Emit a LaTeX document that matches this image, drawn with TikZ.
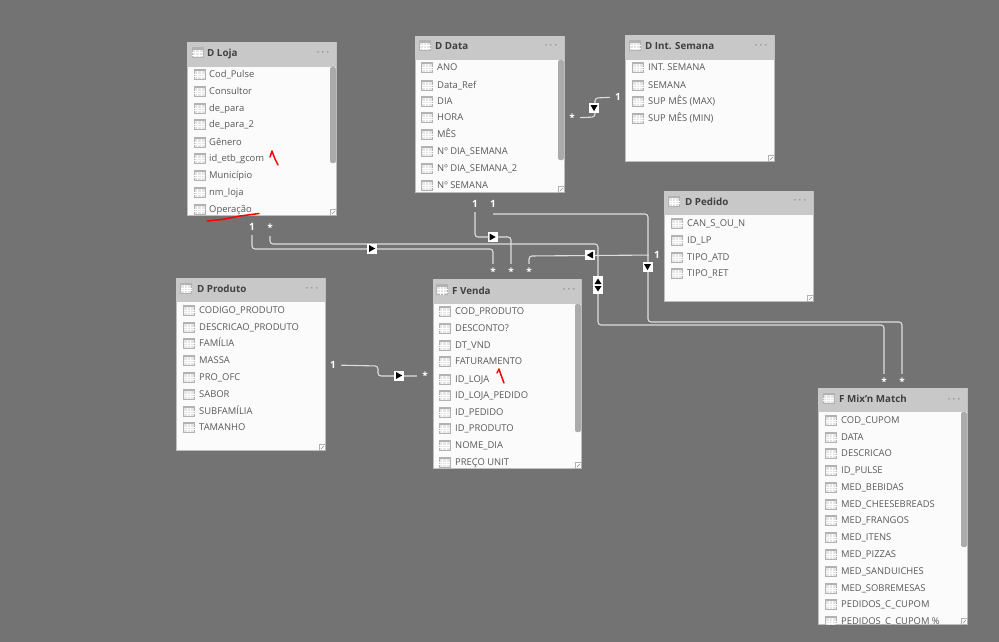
\documentclass[tikz,border=0pt]{standalone}
\usepackage{fontspec}
\setmainfont{Open Sans}
\usepackage{xcolor}
\usetikzlibrary{positioning}
\definecolor{canvasgray}{HTML}{737373}
\definecolor{headgray}{HTML}{C8C8C8}
\definecolor{bodywhite}{HTML}{FBFBFB}
\definecolor{scrollgray}{HTML}{ABABAB}
\definecolor{linegray}{HTML}{DDDDDD}
\definecolor{fieldtext}{HTML}{585858}
\definecolor{headtext}{HTML}{404040}
\tikzset{
    tablebody/.style={fill=bodywhite, draw=black!25, line width=0.6pt},
    tablehead/.style={fill=headgray},
    scrollbar/.style={fill=scrollgray, rounded corners=2pt},
    field/.style={anchor=west, inner sep=0pt, yshift=-1.4pt, text height=7pt, text depth=2pt, text=fieldtext, font=\fontsize{9.4}{11}\selectfont},
    title/.style={anchor=west, inner sep=0pt, yshift=-1.5pt, text height=7pt, text depth=2pt, text=headtext, font=\fontsize{9.8}{11}\selectfont\bfseries},
    dots/.style={inner sep=0pt, yshift=-2pt, text=black!45, font=\fontsize{9}{11}\selectfont\bfseries},
    card/.style={minimum size=16pt, inner sep=0pt, text=white, font=\fontsize{10}{11}\selectfont\bfseries},
    rel/.style={draw=linegray, line width=1.1pt, rounded corners=3pt},
    redmark/.style={draw=red, line width=1.5pt, line cap=round, line join=round},
    gridicon/.pic={
        \fill[black!10] (-5.5,-5) rectangle (5.5,5);
        \fill[black!30] (-5.5,-5) rectangle (5.5,-2.6);
        \draw[black!30, line width=0.5pt] (-5.5,-5) rectangle (5.5,5);
        \foreach \gx in {-2,1.7} \draw[white, line width=0.6pt] (\gx,-2.6) -- (\gx,5);
        \foreach \gy in {0,2.5} \draw[white, line width=0.6pt] (-5.5,\gy) -- (5.5,\gy);
    },
    dirmark/.pic={
        \fill[white] (-5,-5) rectangle (5,5);
        \fill[black] (-3,-3.5) -- (3.2,0) -- (-3,3.5) -- cycle;
    },
    bothmark/.pic={
        \fill[white] (-5,-9) rectangle (5,9);
        \fill[black] (-3.5,-1) -- (0,-6.5) -- (3.5,-1) -- cycle;
        \fill[black] (-3.5,1) -- (0,6.5) -- (3.5,1) -- cycle;
    },
    sizegrip/.pic={
        \draw[black!30, line width=0.5pt] (-6,-6) rectangle (0,0);
        \draw[black!45, line width=0.6pt] (-4,-1) -- (-1,-4);
    }
}
\newcommand{\manymark}{\raisebox{-2.2pt}{*}}
\begin{document}
\begin{tikzpicture}[x=1pt, y=-1pt]
    \useasboundingbox (0,0) rectangle (999,642);
    \fill[canvasgray] (0,0) rectangle (999,642);

    % D Loja
    \filldraw[tablebody] (187,42) rectangle (336,215);
    \fill[tablehead] (187,42) rectangle (336,67);
    \fill[scrollbar] (330,67) rectangle (336,163);
    \pic at (197.5,52.5) {gridicon};
    \node[title] (lojaTitle) at (207,52.5) {D Loja};
    \node[dots] (lojaDots) at (323,52) {· · ·};
    \foreach \rowy/\rowtxt [count=\i] in {74/Cod\_Pulse, 91/Consultor, 108/de\_para, 124/de\_para\_2, 142/Gênero, 158/id\_etb\_gcom, 175/Município, 192/nm\_loja, 209/Operação} {
        \pic at (199.5,\rowy) {gridicon};
        \node[field] (loja\i) at (209,\rowy) {\rowtxt};
    }
    \pic at (336,215) {sizegrip};

    % D Data
    \filldraw[tablebody] (415,36) rectangle (564,192);
    \fill[tablehead] (415,36) rectangle (564,60);
    \fill[scrollbar] (558,60) rectangle (564,160);
    \pic at (425,45.5) {gridicon};
    \node[title] (dataTitle) at (435,45.5) {D Data};
    \node[dots] (dataDots) at (551,45) {· · ·};
    \foreach \rowy/\rowtxt [count=\i] in {67/ANO, 85/Data\_Ref, 101/DIA, 117/HORA, 134/MÊS, 151/Nº DIA\_SEMANA, 168/Nº DIA\_SEMANA\_2, 185/Nº SEMANA} {
        \pic at (427,\rowy) {gridicon};
        \node[field] (data\i) at (437,\rowy) {\rowtxt};
    }
    \pic at (564,192) {sizegrip};

    % D Int. Semana
    \filldraw[tablebody] (625,35) rectangle (774,161);
    \fill[tablehead] (625,35) rectangle (774,60);
    \pic at (635,45.5) {gridicon};
    \node[title] (intTitle) at (645,45.5) {D Int. Semana};
    \node[dots] (intDots) at (761,45) {· · ·};
    \foreach \rowy/\rowtxt [count=\i] in {67/INT. SEMANA, 85/SEMANA, 101/SUP MÊS (MAX), 118/SUP MÊS (MIN)} {
        \pic at (638,\rowy) {gridicon};
        \node[field] (int\i) at (648,\rowy) {\rowtxt};
    }
    \pic at (774,161) {sizegrip};

    % D Pedido
    \filldraw[tablebody] (664,191) rectangle (813,301);
    \fill[tablehead] (664,191) rectangle (813,215);
    \pic at (674,201) {gridicon};
    \node[title] (pedidoTitle) at (685,201) {D Pedido};
    \node[dots] (pedidoDots) at (800,200) {· · ·};
    \foreach \rowy/\rowtxt [count=\i] in {223/CAN\_S\_OU\_N, 240/ID\_LP, 257/TIPO\_ATD, 273/TIPO\_RET} {
        \pic at (677,\rowy) {gridicon};
        \node[field] (pedido\i) at (687,\rowy) {\rowtxt};
    }
    \pic at (813,301) {sizegrip};

    % D Produto
    \filldraw[tablebody] (176,278) rectangle (325,450);
    \fill[tablehead] (176,278) rectangle (325,302);
    \pic at (186,288) {gridicon};
    \node[title] (produtoTitle) at (197,288) {D Produto};
    \node[dots] (produtoDots) at (312,288) {· · ·};
    \foreach \rowy/\rowtxt [count=\i] in {310/CODIGO\_PRODUTO, 327/DESCRICAO\_PRODUTO, 343/FAMÍLIA, 360/MASSA, 377/PRO\_OFC, 394/SABOR, 411/SUBFAMÍLIA, 427/TAMANHO} {
        \pic at (189,\rowy) {gridicon};
        \node[field] (produto\i) at (199,\rowy) {\rowtxt};
    }
    \pic at (325,450) {sizegrip};

    % F Venda
    \filldraw[tablebody] (433,279) rectangle (581,468);
    \fill[tablehead] (433,279) rectangle (581,304);
    \fill[scrollbar] (575,304) rectangle (581,432);
    \pic at (442,289.5) {gridicon};
    \node[title] (vendaTitle) at (452,290) {F Venda};
    \node[dots] (vendaDots) at (569,289) {· · ·};
    \foreach \rowy/\rowtxt [count=\i] in {311/COD\_PRODUTO, 328/DESCONTO?, 345/DT\_VND, 361/FATURAMENTO, 379/ID\_LOJA, 395/ID\_LOJA\_PEDIDO, 412/ID\_PEDIDO, 428/ID\_PRODUTO, 445/NOME\_DIA, 462/PREÇO UNIT} {
        \pic at (444.5,\rowy) {gridicon};
        \node[field] (venda\i) at (455,\rowy) {\rowtxt};
    }
    \pic at (581,468) {sizegrip};

    % F Mix'n Match
    \filldraw[tablebody] (818,388) rectangle (967,624);
    \fill[tablehead] (818,388) rectangle (967,412);
    \fill[scrollbar] (961,412) rectangle (967,547);
    \pic at (828.5,398) {gridicon};
    \node[title] (mixTitle) at (839,398) {F Mix'n Match};
    \node[dots] (mixDots) at (954,399) {· · ·};
    \begin{scope}
        \clip (818,412) rectangle (967,624);
        \foreach \rowy/\rowtxt [count=\i] in {420/COD\_CUPOM, 437/DATA, 453/DESCRICAO, 470/ID\_PULSE, 487/MED\_BEBIDAS, 504/MED\_CHEESEBREADS, 520/MED\_FRANGOS, 537/MED\_ITENS, 554/MED\_PIZZAS, 571/MED\_SANDUICHES, 588/MED\_SOBREMESAS, 604/PEDIDOS\_C\_CUPOM, 621/PEDIDOS\_C\_CUPOM \%} {
            \pic at (831,\rowy) {gridicon};
            \node[field] (mix\i) at (841,\rowy) {\rowtxt};
        }
    \end{scope}
    \pic at (967,624) {sizegrip};

    % cardinalities
    \node[card] (oneLoja) at (252,227) {1};
    \node[card] (manyLoja) at (270,228) {\manymark};
    \node[card] (oneDataA) at (475,204) {1};
    \node[card] (oneDataB) at (493,204) {1};
    \node[card] (oneInt) at (618,97) {1};
    \node[card] (manyData) at (572,118) {\manymark};
    \node[card] (onePedido) at (657,255) {1};
    \node[card] (oneProduto) at (333,365) {1};
    \node[card] (manyProduto) at (425,376) {\manymark};
    \node[card] (manyVendaA) at (493,272) {\manymark};
    \node[card] (manyVendaB) at (511,272) {\manymark};
    \node[card] (manyVendaC) at (529,272) {\manymark};
    \node[card] (manyMixA) at (884,382) {\manymark};
    \node[card] (manyMixB) at (902,382) {\manymark};

    % relationships
    \coordinate (bendLojaA) at (252,249);
    \coordinate (bendLojaB) at (493,249);
    \coordinate (bendLojaC) at (270,244);
    \coordinate (bendLojaD) at (598,244);
    \coordinate (bendLojaE) at (598,325);
    \coordinate (bendLojaF) at (884,325);
    \coordinate (bendDataA) at (475,237);
    \coordinate (bendDataB) at (511,237);
    \coordinate (bendDataC) at (648,214);
    \coordinate (bendDataD) at (648,322);
    \coordinate (bendDataE) at (902,322);
    \coordinate (bendDataF) at (493,214);
    \coordinate (bendIntA) at (595,98);
    \coordinate (bendIntB) at (595,117);
    \coordinate (bendPedidoA) at (529,256);
    \coordinate (bendProdA) at (378,366);
    \coordinate (bendProdB) at (378,376);
    \draw[rel] (oneLoja) -- (bendLojaA) -- (bendLojaB) -- (manyVendaA);
    \draw[rel] (manyLoja) -- (bendLojaC) -- (bendLojaD) -- (bendLojaE) -- (bendLojaF) -- (manyMixA);
    \draw[rel] (oneDataA) -- (bendDataA) -- (bendDataB) -- (manyVendaB);
    \draw[rel] (bendDataF) -- (bendDataC) -- (bendDataD) -- (bendDataE) -- (manyMixB);
    \draw[rel] (oneInt) -- (bendIntA) -- (bendIntB) -- (manyData);
    \draw[rel] (onePedido) -- (bendPedidoA) -- (manyVendaC);
    \draw[rel] (oneProduto) -- (bendProdA) -- (bendProdB) -- (manyProduto);

    % direction marks
    \pic at (372,248.5) {dirmark};
    \pic at (492.5,237) {dirmark};
    \pic[rotate=-90] at (594,108) {dirmark};
    \pic[rotate=180] at (590,255) {dirmark};
    \pic[rotate=-90] at (647.5,267) {dirmark};
    \pic at (399,375.5) {dirmark};
    \pic at (598,285) {bothmark};

    % hand marks
    \draw[redmark] (270,157) -- (272,151) -- (275,159) -- (278,165);
    \draw[redmark] (207,221) -- (222,219.5) -- (240,216) -- (259,213.5);
    \draw[redmark] (497,373) -- (499,369) -- (501,375) -- (504,383);
\end{tikzpicture}
\end{document}
